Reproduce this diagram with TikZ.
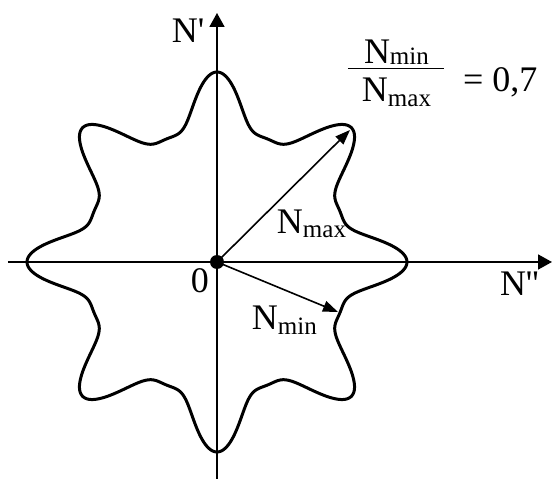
\documentclass[tikz,border=0pt]{standalone}
\usepackage{fontspec}
\setmainfont{Liberation Serif}
\usetikzlibrary{arrows.meta}
\newcommand{\bigf}{\fontsize{36}{40}\selectfont}
\newcommand{\subf}{\fontsize{25}{28}\selectfont}
\tikzset{
  axis/.style={line width=1.8pt, -{Triangle[length=14pt,width=15pt]}},
  vec/.style={line width=1.6pt, -{Triangle[length=15pt,width=11pt]}},
  lbl/.style={inner sep=0pt, outer sep=0pt, font=\bigf},
  curve/.style={line width=3pt, line join=round}
}
\begin{document}
\begin{tikzpicture}[x=1pt,y=1pt]
\useasboundingbox (-217,-217) rectangle (335,262);
% axes
\coordinate (xl) at (-209,0);
\coordinate (xr) at (335,0);
\coordinate (yb) at (0,-217);
\coordinate (yt) at (0,249);
\draw[axis] (xl) -- (xr);
\draw[axis] (yb) -- (yt);
% star curve
\draw[curve, domain=0:360, samples=721, smooth, variable=\t]
  plot ({(154+28.5*cos(8*\t)+7.5*cos(16*\t))*cos(\t)}, {(154+28.5*cos(8*\t)+7.5*cos(16*\t))*sin(\t)}) -- cycle;
% origin
\node[circle, fill=black, inner sep=0pt, minimum size=14pt] (O) at (0,0) {};
\coordinate (pmax) at (133,132);
\coordinate (pmin) at (121,-50);
\draw[vec] (O.center) -- (pmax);
\draw[vec] (O.center) -- (pmin);
% labels
\node[lbl, anchor=base west] (ly) at (-45,219) {N\textquotesingle};
\node[lbl, anchor=base west] (lx) at (283,-34) {N\textquotesingle\textquotesingle};
\node[lbl, anchor=base west] (l0) at (-26,-31) {0};
\node[lbl, anchor=base west] (lmax) at (60,28) {N\raisebox{-4pt}{\subf max}};
\node[lbl, anchor=base west] (lmin) at (35,-68) {N\raisebox{-5pt}{\subf min}};
% fraction
\node[lbl, anchor=base west] (num) at (147,198.7) {N\raisebox{-1pt}{\subf min}};
\node[lbl, anchor=base west] (den) at (145,160.3) {N\raisebox{-5pt}{\subf max}};
\coordinate (barl) at (131,193.7);
\coordinate (barr) at (227,193.7);
\draw[line width=1.3pt] (barl) -- (barr);
\node[lbl, anchor=base west] (eq) at (246,170) {= 0,7};
\end{tikzpicture}
\end{document}
